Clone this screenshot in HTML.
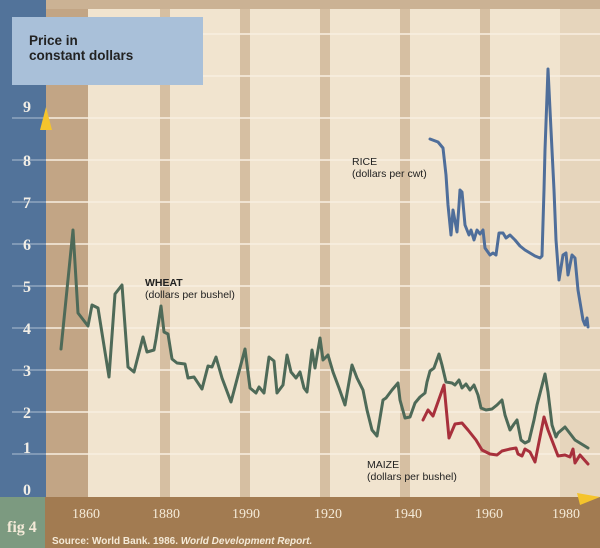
<!DOCTYPE html>
<html><head><meta charset="utf-8"><style>
html,body{margin:0;padding:0;background:#f1e4cf}
svg{display:block}
.sf{font-family:"Liberation Serif",serif}
.ss{font-family:"Liberation Sans",sans-serif}
</style></head><body>
<svg width="600" height="548" viewBox="0 0 600 548" xmlns="http://www.w3.org/2000/svg">
<rect x="0" y="0" width="600" height="548" fill="#d2bb9f"/>
<rect x="88" y="9" width="472" height="488" fill="#f1e4cf"/>
<rect x="46" y="9" width="42" height="488" fill="#c2a585"/>
<rect x="0" y="0" width="600" height="9" fill="#cbb294"/>
<g fill="#d6bfa2">
<rect x="160" y="9" width="10" height="488"/>
<rect x="240" y="9" width="10" height="488"/>
<rect x="320" y="9" width="10" height="488"/>
<rect x="400" y="9" width="10" height="488"/>
<rect x="480" y="9" width="10" height="488"/>
</g>
<rect x="560" y="9" width="40" height="488" fill="#e6d5bc"/>
<g stroke="#f8efe1" stroke-width="1.5">
<line x1="12" y1="454" x2="600" y2="454"/>
<line x1="12" y1="412" x2="600" y2="412"/>
<line x1="12" y1="370" x2="600" y2="370"/>
<line x1="12" y1="328" x2="600" y2="328"/>
<line x1="12" y1="286" x2="600" y2="286"/>
<line x1="12" y1="244" x2="600" y2="244"/>
<line x1="12" y1="202" x2="600" y2="202"/>
<line x1="12" y1="160" x2="600" y2="160"/>
<line x1="12" y1="118" x2="600" y2="118"/>
<line x1="88" y1="76" x2="600" y2="76"/>
<line x1="88" y1="34" x2="600" y2="34"/>
</g>
<rect x="0" y="0" width="46" height="497" fill="#52739a"/>
<g stroke="#8fa6c0" stroke-width="1.5">
<line x1="12" y1="454" x2="46" y2="454"/><line x1="12" y1="412" x2="46" y2="412"/>
<line x1="12" y1="370" x2="46" y2="370"/><line x1="12" y1="328" x2="46" y2="328"/>
<line x1="12" y1="286" x2="46" y2="286"/><line x1="12" y1="244" x2="46" y2="244"/>
<line x1="12" y1="202" x2="46" y2="202"/><line x1="12" y1="160" x2="46" y2="160"/>
<line x1="12" y1="118" x2="46" y2="118"/>
</g>
<rect x="12" y="17" width="191" height="68" fill="#a9c0d9"/>
<text class="ss" x="29" y="45" font-weight="bold" font-size="13.5" fill="#222">Price in</text>
<text class="ss" x="29" y="60" font-weight="bold" font-size="13.5" fill="#222">constant dollars</text>
<g class="sf" fill="#f2eee6" font-weight="bold" font-size="16" text-anchor="middle">
<text x="27" y="495">0</text><text x="27" y="453">1</text><text x="27" y="418">2</text>
<text x="27" y="376">3</text><text x="27" y="334">4</text><text x="27" y="292">5</text>
<text x="27" y="250">6</text><text x="27" y="208">7</text><text x="27" y="166">8</text>
<text x="27" y="112">9</text>
</g>
<polygon points="46,107 40,130 52,130" fill="#f5c42c"/>
<rect x="0" y="497" width="600" height="51" fill="#a27b51"/>
<rect x="0" y="497" width="45" height="51" fill="#7c9a80"/>
<polygon points="577,493 600,497 580,505" fill="#f5c42c"/>
<g class="sf" fill="#f4ead8" font-size="14" text-anchor="middle">
<text x="86" y="518">1860</text><text x="166" y="518">1880</text><text x="246" y="518">1990</text>
<text x="328" y="518">1920</text><text x="408" y="518">1940</text><text x="489" y="518">1960</text>
<text x="566" y="518">1980</text>
</g>
<text class="sf" x="7" y="532" fill="#f4ead8" font-size="16" font-weight="bold">fig 4</text>
<text class="ss" x="52" y="544" fill="#f4ead8" font-size="10" font-weight="bold">Source:   World Bank. 1986. <tspan font-style="italic">World Development Report.</tspan></text>
<g fill="none" stroke-width="3" stroke-linejoin="round" stroke-linecap="round">
<polyline stroke="#4e6a58" points="61,349 73,230 78,313 88,326 92,305 98,308 109,377 115,294 122,285 128,367 134,372 143,337 147,352 154,350 156,339 161,306 164,332 168,334 172,359 177,363 185,364 188,378 194,377 202,389 208,366 212,367 216,357 222,378 231,402 245,349 250,388 256,393 259,387 264,393 269,357 274,361 277,393 283,385 287,355 291,372 296,378 300,372 304,388 307,392 312,350 315,368 320,338 323,360 328,355 333,372 339,388 345,405 352,365 357,378 363,390 367,410 372,430 377,436 383,400 386,398 392,390 398,383 400,400 405,418 410,417 415,403 420,397 425,393 427,382 430,371 434,368 439,354 442,365 446,382 452,383 455,385 459,380 462,388 466,384 470,390 474,385 478,395 481,408 486,410 492,409 497,405 502,400 505,415 510,430 514,424 517,420 521,440 525,443 529,441 534,420 537,405 545,374 548,392 552,425 556,437 558,433 565,427 575,440 588,448"/>
<polyline stroke="#a8303c" points="423,420 428,410 433,416 444,385 449,438 455,424 462,423 468,430 476,440 482,450 490,454 497,455 502,451 510,449 516,448 518,454 522,456 525,449 530,452 535,462 544,417 548,430 558,456 565,455 570,457 573,449 575,463 580,455 588,464"/>
<polyline stroke="#4f6e9a" points="430,139 438,142 443,148 446,175 448,205 451,235 453,210 457,232 459,205 460,190 462,192 465,225 469,235 471,230 474,240 477,230 480,234 483,230 485,248 490,255 493,253 496,255 499,233 503,233 506,238 510,235 515,240 520,246 525,250 530,253 535,256 540,258 542,256 544,190 545,150 548,69 551,130 554,190 556,240 559,280 563,255 566,253 568,275 572,255 575,258 578,290 583,320 585,325 587,318 588,327"/>
</g>
<g class="ss" fill="#222" font-size="10.5">
<text x="352" y="165">RICE</text><text x="352" y="177">(dollars per cwt)</text>
<text x="145" y="286" font-weight="bold">WHEAT</text><text x="145" y="298">(dollars per bushel)</text>
<text x="367" y="468">MAIZE</text><text x="367" y="480">(dollars per bushel)</text>
</g>
</svg>
</body></html>
